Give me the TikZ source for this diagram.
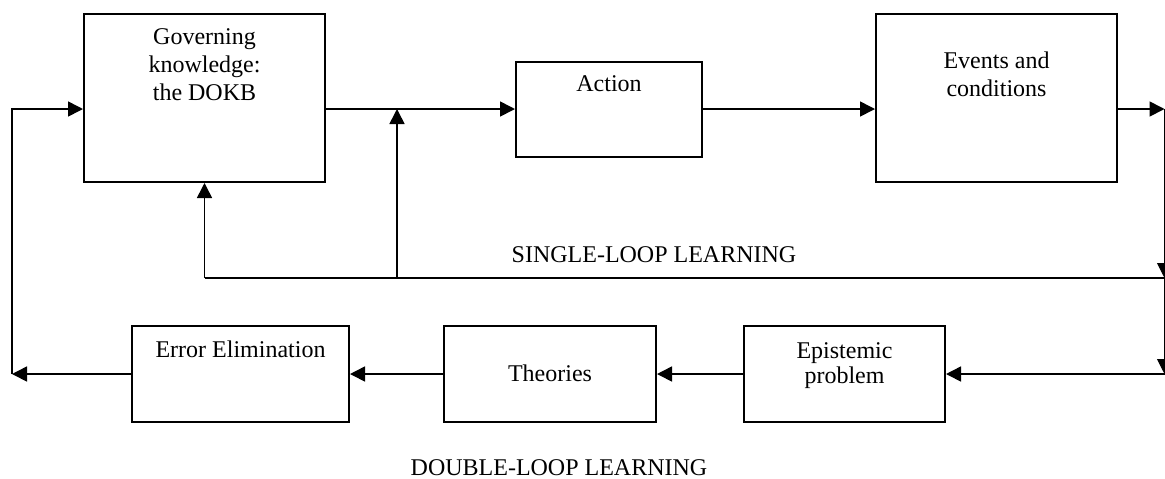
\documentclass[tikz,border=0pt]{standalone}
\usepackage{fontspec}
\setmainfont{Liberation Serif}
\usetikzlibrary{arrows.meta}
\begin{document}
\begin{tikzpicture}[x=0.5pt, y=-0.5pt, >={Triangle[length=7.5pt,width=7.5pt]},
  font=\fontsize{12}{13.8}\selectfont,
  box/.style={draw, line width=1pt, inner sep=0pt},
  boxtext/.style={anchor=base, align=center, yshift=-#1},
  boxtext/.default=15.5pt,
  link/.style={->, line width=0.8pt}]
\useasboundingbox (0,0) rectangle (1165,478);

\node[box, minimum width=120.5pt, minimum height=84pt, label={[boxtext=43.5pt]north:{Governing\\knowledge:\\the DOKB}}] (dokb) at (204.5,98) {};
\node[box, minimum width=93pt, minimum height=47.5pt, label={[boxtext]north:Action}] (act) at (609,109) {};
\node[box, minimum width=120.5pt, minimum height=84pt, label={[boxtext=41.5pt]north:{Events and\\conditions}}] (ev) at (996.5,98) {};
\node[box, minimum width=108.5pt, minimum height=48pt, label={[boxtext=16pt]north:Error Elimination}] (err) at (240.5,374) {};
\node[box, minimum width=106pt, minimum height=48pt, label={[boxtext=28pt]north:Theories}] (theo) at (550,374) {};
\node[box, minimum width=100.5pt, minimum height=48pt, label={[boxtext=29pt, font=\fontsize{12}{12.5}\selectfont]north:{Epistemic\\problem}}] (epi) at (844.5,374) {};

\node[anchor=base] (sll) at (654,262) {SINGLE-LOOP LEARNING};
\node[anchor=base] (dll) at (559,475) {DOUBLE-LOOP LEARNING};

\coordinate (rtop) at (1164.5,109);
\coordinate (rmid) at (1164.5,278);
\coordinate (rbot) at (1164.5,374);
\coordinate (lbot) at (12,374);
\coordinate (ltop) at (12,109);
\coordinate (jn) at (397,278);

\draw[link] (ltop -| dokb.east) -- (act.west);
\draw[link] (act.east) -- (act.east -| ev.west);
\draw[link] (ev.east |- rtop) -- (rtop);
\draw[link, line width=0.5pt] (rtop) -- (rmid);
\draw[line width=1.4pt] (rmid) -- (dokb.south |- rmid);
\draw[link] (dokb.south |- rmid) -- (dokb.south);
\draw[link] (jn) -- (jn |- ltop);
\draw[link, line width=0.5pt] (rmid) -- (rbot);
\draw[link] (rbot) -- (epi.east);
\draw[link] (epi.west) -- (theo.east);
\draw[link] (theo.west) -- (err.east);
\draw[link] (err.west) -- (lbot);
\draw[link] (lbot) -- (ltop) -- (ltop -| dokb.west);
\end{tikzpicture}
\end{document}
